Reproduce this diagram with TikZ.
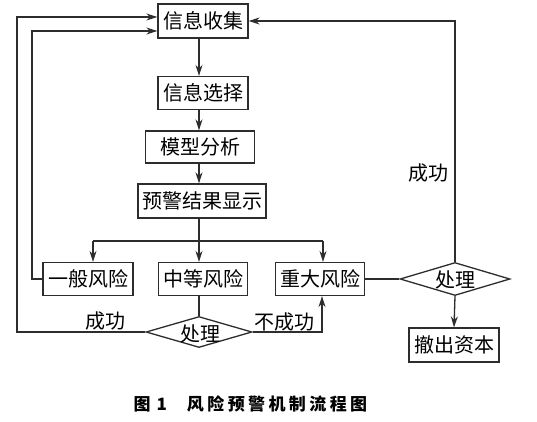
\documentclass[tikz,border=0pt]{standalone}
\usepackage{fontspec}
\newfontfamily\song{Noto Sans CJK SC}
\newfontfamily\capfont[LetterSpace=20]{Noto Sans CJK SC}
\usetikzlibrary{shapes.geometric,arrows.meta}
\begin{document}
\begin{tikzpicture}[x=1pt,y=-1pt,
  line width=1.3pt, draw={rgb,255:red,45;green,45;blue,45},
  box/.style={draw, rectangle, inner sep=0pt, minimum height=33pt,
    font=\song\fontsize{20}{20}\selectfont},
  dia/.style={draw, diamond, inner sep=0pt, aspect=3.4},
  lbl/.style={font=\song\fontsize{20}{20}\selectfont, inner sep=0pt},
  arr/.style={-{Stealth[length=11pt,width=7pt]}}]
\useasboundingbox (0,0) rectangle (537,422);
\fill[white] (0,0) rectangle (537,422);
% boxes
\node[box, minimum width=90pt, minimum height=34pt] (c1) at (203,21) {信息收集};
\node[box, minimum width=90pt] (c2) at (203,93) {信息选择};
\node[box, minimum width=109pt, minimum height=32pt] (c3) at (200,147) {模型分析};
\node[box, minimum width=128pt, minimum height=34pt] (c4) at (202,201) {预警结果显示};
\node[box, minimum width=90pt] (r1) at (88,279) {一般风险};
\node[box, minimum width=89pt] (r2) at (203,279) {中等风险};
\node[box, minimum width=89pt] (r3) at (320,279) {重大风险};
\node[box, minimum width=90pt, minimum height=34pt] (e) at (454,345) {撤出资本};
\node[dia, minimum width=106pt, minimum height=31pt] (d1) at (199,332) {};
\node[lbl] (d1t) at (200,334) {处理};
\node[dia, minimum width=110pt, minimum height=33pt] (d2) at (455,279) {};
\node[lbl] (d2t) at (455,280) {处理};
% coordinates
\coordinate (sp) at (199,0);
\coordinate (bL) at (93,241);
\coordinate (bR) at (323,241);
\coordinate (oL) at (17,17);
\coordinate (iL) at (32,31);
\coordinate (nR) at (322,332);
% main spine
\draw[arr] (c1.south -| sp) -- (c2.north -| sp);
\draw[arr] (c2.south -| sp) -- (c3.north -| sp);
\draw[arr] (c3.south -| sp) -- (c4.north -| sp);
\draw[arr] (c4.south -| sp) -- (r2.north -| sp);
\draw (bL) -- (bR);
\draw[arr] (bL) -- (bL |- r1.north);
\draw[arr] (bR) -- (bR |- r3.north);
% lower
\draw (r2.south -| d1.north) -- (d1.north);
\draw[arr] (d1.west) -| (oL) -- (oL -| c1.west);
\draw[arr] (r1.west) -| (iL) -- (iL -| c1.west);
\draw[arr] (d1.east) -| (nR |- r3.south);
\draw (r3.east) -- (d2.west);
\draw[arr] (d2.north) |- (c1.east);
\draw[arr] (d2.south) -- (e.north);
% labels
\node[lbl] (s1) at (105,321) {成功};
\node[lbl] (s2) at (284,322) {不成功};
\node[lbl] (s3) at (428,173) {成功};
% caption
\node[font=\capfont\bfseries\fontsize{17}{17}\selectfont, inner sep=0pt, anchor=west] (cap) at (133,404) {图\hspace{6pt}1\hspace{20pt}风险预警机制流程图};
\end{tikzpicture}
\end{document}
